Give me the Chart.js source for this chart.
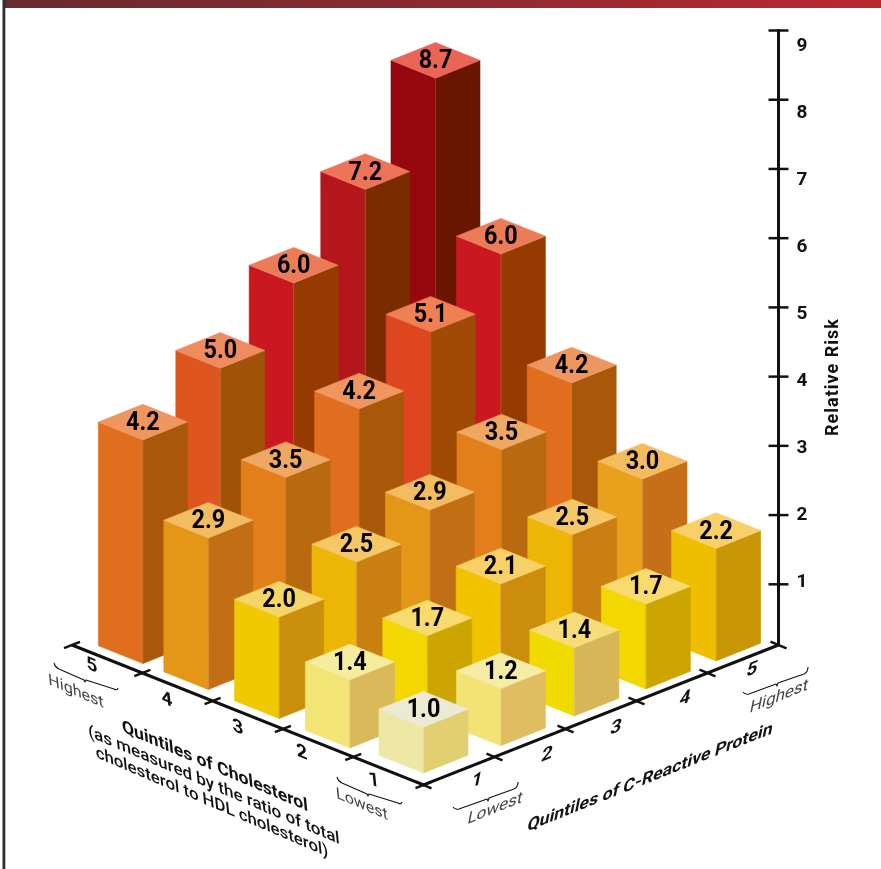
<!DOCTYPE html>
<html><head><meta charset="utf-8">
<style>html,body{margin:0;padding:0;background:#fff}#wrap{position:absolute;left:0;top:0;width:881px;height:869px}</style>
<script src="https://cdn.jsdelivr.net/npm/chart.js@4"></script>
</head><body><div id="wrap"><canvas id="c" width="881" height="869"></canvas></div>
<script>
// ---- data (rows = cholesterol quintile 1..5, columns = CRP quintile 1..5)
const crpQuintiles = [1, 2, 3, 4, 5];
const cholQuintiles = [1, 2, 3, 4, 5];
const riskTicks = [1, 2, 3, 4, 5, 6, 7, 8, 9];
const riskChol1 = [1.0, 1.2, 1.4, 1.7, 2.2];
const riskChol2 = [1.4, 1.7, 2.1, 2.5, 3.0];
const riskChol3 = [2.0, 2.5, 2.9, 3.5, 4.2];
const riskChol4 = [2.9, 3.5, 4.2, 5.1, 6.0];
const riskChol5 = [4.2, 5.0, 6.0, 7.2, 8.7];
const riskRows = [riskChol1, riskChol2, riskChol3, riskChol4, riskChol5];

// ---- face colours per bar
const frontColours = [
 ['#EFE7A6','#F2E374','#F0DA00','#F2D700','#F0BE00'],
 ['#F2E475','#F2D700','#F0C200','#EDB505','#E9A01C'],
 ['#EFCA00','#EDB505','#E49616','#E37F1A','#E16D1E'],
 ['#E49616','#E37F1A','#E16D1E','#DE4620','#C9181F'],
 ['#E16D1E','#DF5520','#C9181F','#B5161B','#96070F']];
const sideColours = [
 ['#E2CF72','#E0BD60','#D7B658','#CDA500','#C89606'],
 ['#D9B95A','#CDA500','#CC8C0C','#C98010','#C56F18'],
 ['#CB8F0E','#C98010','#C26E15','#B96A10','#A85808'],
 ['#C26E15','#B96A10','#A85808','#A04B05','#953A00'],
 ['#A85808','#A05208','#953A00','#7A2B00','#6A1500']];
const topColours = [
 ['#ECEAD5','#F5EDA5','#F7DC7A','#F9DA6E','#F8CF68'],
 ['#F6EC9E','#F9DA6E','#F8D068','#F5C766','#F5BC5F'],
 ['#F5D568','#F5C766','#F3BC62','#EFA862','#EF9560'],
 ['#F3BC62','#EFA862','#EF9560','#EE8054','#EC7C58'],
 ['#EF9560','#EE8B5F','#EC7C58','#ED7459','#EA6555']];

// ---- projection of the floor grid onto the chart's x / risk scales
const PX_X = 71, PX_Y = 69.225;
const crpPos = [0, 1.090, 2.124, 3.132, 4.121];
const cholPos = [0, -1.037, -2.034, -3.031, -3.952];
const crpDepth = [0, 0.394, 0.823, 1.213, 1.618];
const cholDepth = [0, 0.361, 0.787, 1.206, 1.582];
const floorBase = -1.7258;
const heightScale = 0.8017, heightShift = -0.137;
const halfW = 44.5 / PX_X, halfD = 17.8 / PX_Y;
const axisFloor = -1.899, axisBack = 0.1232;

const FONT = 'Roboto, sans-serif';
const INK = '#111';

function text(ctx, str, x, y, font, colour, m, spacing) {
  ctx.save();
  ctx.font = font; ctx.fillStyle = colour;
  ctx.textAlign = 'center'; ctx.textBaseline = 'middle';
  if (spacing) ctx.letterSpacing = spacing;
  ctx.transform(m[0], m[1], m[2], m[3], x, y);
  ctx.fillText(str, 0, 0);
  ctx.restore();
}
const LEFT = [1, 0.43, 0.1, 1], RIGHT = [1, -0.4, -0.2, 1], NARROW = [0.9, 0, 0, 1];

function braceL(ctx, a, tip, b) {
  ctx.save();
  ctx.strokeStyle = INK; ctx.lineWidth = 1.1; ctx.lineJoin = 'round';
  ctx.beginPath();
  ctx.moveTo(a[0], a[1]);
  ctx.quadraticCurveTo(a[0] + 1, a[1] + 4, a[0] + 5, a[1] + 6);
  ctx.lineTo(tip[0] - 1, tip[1] - 2); ctx.lineTo(tip[0], tip[1]); ctx.lineTo(tip[0] + 1, tip[1] - 2);
  ctx.lineTo(b[0] - 4, b[1] - 1);
  ctx.quadraticCurveTo(b[0] - 1, b[1] + 1, b[0], b[1] - 2);
  ctx.stroke();
  ctx.restore();
}
function braceR(ctx, a, tip, b) {
  ctx.save();
  ctx.strokeStyle = INK; ctx.lineWidth = 1.1; ctx.lineJoin = 'round';
  ctx.beginPath();
  ctx.moveTo(a[0], a[1]);
  ctx.quadraticCurveTo(a[0] + 2, a[1] + 3, a[0] + 6, a[1] + 2);
  ctx.lineTo(tip[0] - 1, tip[1] + 1); ctx.lineTo(tip[0], tip[1] + 3); ctx.lineTo(tip[0] + 1, tip[1]);
  ctx.lineTo(b[0] - 4, b[1] + 7);
  ctx.quadraticCurveTo(b[0], b[1] + 5, b[0], b[1]);
  ctx.stroke();
  ctx.restore();
}

const isoBars = {
  id: 'isoBars',
  beforeDraw(chart) {
    const { ctx } = chart;
    ctx.save();
    const g = ctx.createLinearGradient(0, 0, 881, 0);
    g.addColorStop(0, '#682A2E'); g.addColorStop(0.5, '#8C2A30'); g.addColorStop(1, '#BC2830');
    ctx.fillStyle = g; ctx.fillRect(4.5, 0, 876.5, 8);
    ctx.fillStyle = '#2E2E2E'; ctx.fillRect(2.5, 0, 2.8, 869);
    ctx.restore();
  },
  afterDatasetsDraw(chart) {
    const { ctx, scales } = chart;
    const X = scales.x, Y = scales.y;
    const px = (x, v) => [X.getPixelForValue(x), Y.getPixelForValue(v)];

    // floor axes
    const corner = px(0, axisFloor), rEnd = px(5, axisBack), lEnd = px(-351.5 / PX_X, axisBack);
    ctx.save();
    ctx.strokeStyle = INK; ctx.lineCap = 'butt'; ctx.lineWidth = 3;
    ctx.beginPath();
    ctx.moveTo(lEnd[0], lEnd[1]); ctx.lineTo(corner[0], corner[1]); ctx.lineTo(rEnd[0], rEnd[1]);
    ctx.stroke();
    ctx.lineWidth = 2.5;
    for (let i = 0; i <= 5; i++) {
      const t = i / 5;
      const rx = corner[0] + (rEnd[0] - corner[0]) * t, ry = corner[1] + (rEnd[1] - corner[1]) * t;
      const lx = corner[0] + (lEnd[0] - corner[0]) * t, ly = corner[1] + (lEnd[1] - corner[1]) * t;
      ctx.beginPath(); ctx.moveTo(rx - 8, ry - 3.4); ctx.lineTo(rx + 8, ry + 3.4); ctx.stroke();
      ctx.beginPath(); ctx.moveTo(lx - 8, ly + 3.2); ctx.lineTo(lx + 8, ly - 3.2); ctx.stroke();
    }
    // risk axis tick marks across the axis line
    Y.ticks.forEach(t => {
      const y = Y.getPixelForValue(t.value);
      ctx.beginPath(); ctx.moveTo(Y.left - 10, y); ctx.lineTo(Y.left + 10, y); ctx.stroke();
    });
    ctx.restore();

    // bars, far to near
    const order = [];
    riskRows.forEach((row, r) => row.forEach((v, c) => order.push({ r, c, v })));
    order.sort((a, b) => (b.r + b.c) - (a.r + a.c));
    order.forEach(({ r, c, v }) => {
      const gx = crpPos[c] + cholPos[r];
      const base = floorBase + crpDepth[c] + cholDepth[r];
      const top = base + heightScale * v + heightShift;
      const poly = (pts, col) => {
        ctx.beginPath();
        pts.forEach((p, i) => { const q = px(p[0], p[1]); i ? ctx.lineTo(q[0], q[1]) : ctx.moveTo(q[0], q[1]); });
        ctx.closePath();
        ctx.fillStyle = col; ctx.strokeStyle = col; ctx.lineWidth = 0.6;
        ctx.fill(); ctx.stroke();
      };
      poly([[gx - halfW, top + halfD], [gx, top], [gx, base], [gx - halfW, base + halfD]], frontColours[r][c]);
      poly([[gx + halfW, top + halfD], [gx, top], [gx, base], [gx + halfW, base + halfD]], sideColours[r][c]);
      poly([[gx - halfW, top + halfD], [gx, top + 2 * halfD], [gx + halfW, top + halfD], [gx, top]], topColours[r][c]);
      // pale hairline on the near corner
      const e1 = px(gx, top), e2 = px(gx, base);
      ctx.save();
      ctx.globalAlpha = 0.45; ctx.strokeStyle = topColours[r][c]; ctx.lineWidth = 0.8;
      ctx.beginPath(); ctx.moveTo(e1[0], e1[1]); ctx.lineTo(e2[0], e2[1]); ctx.stroke();
      ctx.restore();
      const q = px(gx, top + halfD);
      text(ctx, v.toFixed(1), q[0], q[1] + 1.5, 'bold 26px ' + FONT, '#000', NARROW);
    });

    // floor tick labels
    const lPos = [[374, 781], [302, 753], [238, 728], [167, 700], [92, 666]];
    const rPos = [[477, 781], [547, 755], [616, 728], [685, 699], [752, 670]];
    cholQuintiles.forEach((q, i) => text(ctx, String(q), lPos[i][0], lPos[i][1], 'bold 19px ' + FONT, INK, LEFT));
    crpQuintiles.forEach((q, i) => text(ctx, String(q), rPos[i][0], rPos[i][1], 'bold 19px ' + FONT, INK, RIGHT));

    // lowest / highest with braces
    braceL(ctx, [54, 663], [85, 682], [118, 690]);
    braceL(ctx, [337, 777], [368, 796], [402, 804]);
    text(ctx, 'Highest', 76, 692, '16px ' + FONT, '#444', LEFT);
    text(ctx, 'Lowest', 362, 805, '16px ' + FONT, '#444', LEFT);
    braceR(ctx, [453, 807], [488, 798], [518, 782]);
    braceR(ctx, [743, 692], [777, 683], [808, 667]);
    text(ctx, 'Lowest', 495, 809, '17px ' + FONT, '#444', RIGHT);
    text(ctx, 'Highest', 779, 697, '17px ' + FONT, '#444', RIGHT);

    // floor axis titles
    text(ctx, 'Quintiles of Cholesterol', 215, 767, 'bold 17.6px ' + FONT, INK, LEFT);
    text(ctx, '(as measured by the ratio of total', 214, 786, '500 17px ' + FONT, INK, LEFT);
    text(ctx, 'cholesterol to HDL cholesterol)', 212, 803, '500 16.8px ' + FONT, INK, LEFT);
    text(ctx, 'Quintiles of C-Reactive Protein', 650, 778, 'bold 17.7px ' + FONT, INK, RIGHT);

    // risk axis title
    ctx.save();
    ctx.translate(833, 377); ctx.rotate(-Math.PI / 2);
    ctx.font = 'bold 18px ' + FONT; ctx.fillStyle = INK; ctx.letterSpacing = '1px';
    ctx.textAlign = 'center'; ctx.textBaseline = 'middle';
    ctx.fillText('Relative Risk', 0, 0);
    ctx.restore();
  }
};

const datasets = riskRows.map((row, r) => ({
  label: 'Cholesterol quintile ' + cholQuintiles[r],
  data: row.map((v, c) => ({ x: crpPos[c] + cholPos[r], y: v })),
  pointRadius: 0, showLine: false
}));

new Chart(document.getElementById('c'), {
  type: 'scatter',
  data: { datasets },
  plugins: [isoBars],
  options: {
    responsive: false, animation: false, devicePixelRatio: 1,
    layout: { padding: { top: 30.5, bottom: 224, left: 0, right: 0 } },
    plugins: { legend: { display: false }, tooltip: { enabled: false } },
    scales: {
      x: { type: 'linear', display: false, min: -423.5 / PX_X, max: 5 },
      y: {
        position: 'right', min: axisBack, max: 9,
        grid: { display: false }, border: { display: true, color: INK, width: 3 },
        ticks: { display: false },
        afterBuildTicks(s) { s.ticks = riskTicks.map(value => ({ value })); },
        afterFit(s) { s.width = 0; }
      },
      yLabels: {
        position: 'right', min: 0.0589, max: 9.239,
        grid: { display: false, drawTicks: false }, border: { display: false },
        ticks: { color: INK, padding: 18, font: { family: 'Roboto', weight: 'bold', size: 19 } },
        afterBuildTicks(s) { s.ticks = riskTicks.map(value => ({ value })); },
        afterFit(s) { s.width = 102.5; }
      }
    }
  }
});
</script></body></html>
